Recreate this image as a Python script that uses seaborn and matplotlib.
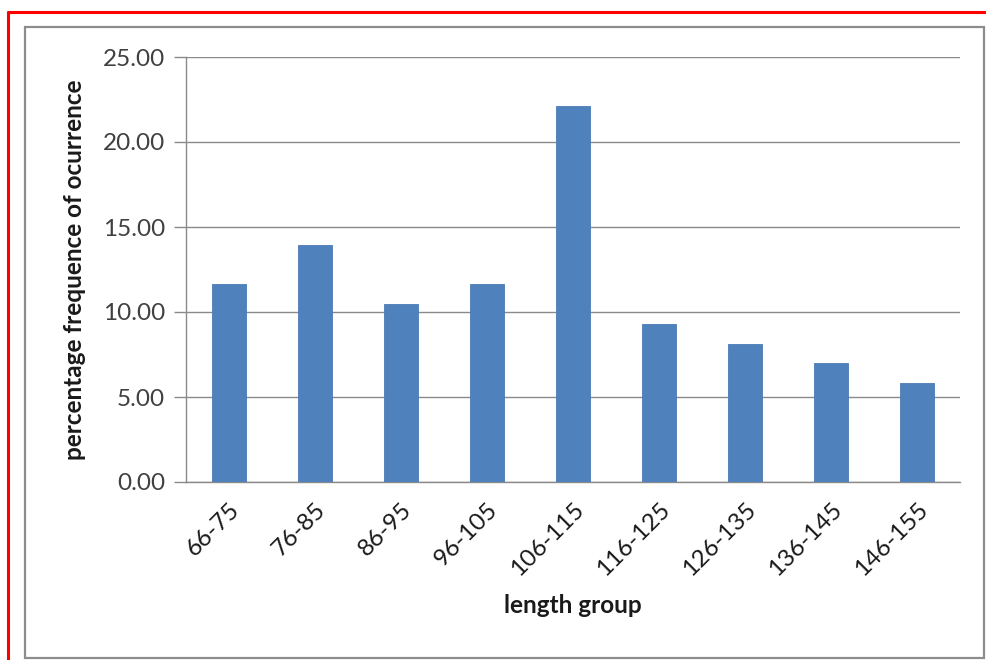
import matplotlib
matplotlib.use("Agg")
import matplotlib.pyplot as plt
import seaborn as sns
import pandas as pd
from matplotlib.lines import Line2D
from matplotlib.patches import Rectangle

# Length classes and their share of the catch (%)
length_groups = ["66-75", "76-85", "86-95", "96-105", "106-115",
                 "116-125", "126-135", "136-145", "146-155"]
percent_freq = [11.63, 13.95, 10.47, 11.63, 22.09, 9.30, 8.14, 6.98, 5.81]
y_ticks = [0, 5, 10, 15, 20, 25]

df = pd.DataFrame({"group": length_groups, "pct": percent_freq})

sns.set_theme(style="white")
plt.rcParams["font.family"] = ["Lato", "DejaVu Sans"]

W, H = 987, 660
fig = plt.figure(figsize=(W / 100, H / 100), dpi=100)
fig.patch.set_facecolor("white")

# outer frames: red outline (top/left) and grey chart border
fig.add_artist(Line2D([8 / W, 1.0], [1 - 12 / H] * 2, color="#ff0000", lw=2.2,
                      transform=fig.transFigure))
fig.add_artist(Line2D([8 / W] * 2, [0, 1 - 12 / H], color="#ff0000", lw=2.2,
                      transform=fig.transFigure))
fig.add_artist(Rectangle((25 / W, 1 - 658 / H), (984 - 25) / W, (658 - 27) / H,
                         fill=False, edgecolor="#8c8c8c", lw=1.6,
                         transform=fig.transFigure))

left, right, top, bottom = 186, 960, 57, 482
ax = fig.add_axes([left / W, 1 - bottom / H, (right - left) / W, (bottom - top) / H])

sns.barplot(data=df, x="group", y="pct", color="#4f81bd", width=0.4,
            saturation=1, edgecolor="#4a7ab5", linewidth=0.6, ax=ax, zorder=3)

ax.set_ylim(0, 25)
ax.set_xlim(-0.5, len(length_groups) - 0.5)
ax.set_yticks(y_ticks)
ax.set_yticklabels([f"{v:.2f}" for v in y_ticks], fontsize=17.5, color="#404040")
ax.yaxis.grid(True, color="#8a8a8a", lw=1.0, zorder=0)
ax.xaxis.grid(False)

for s in ["top", "right"]:
    ax.spines[s].set_visible(False)
ax.spines["left"].set_color("#8a8a8a")
ax.spines["bottom"].set_color("#8a8a8a")
ax.spines["left"].set_linewidth(1.0)
ax.spines["bottom"].set_linewidth(1.0)

ax.tick_params(axis="y", which="major", left=True, length=9, width=1.0,
               color="#8a8a8a", pad=6)
ax.tick_params(axis="x", bottom=False, pad=6)
plt.setp(ax.get_xticklabels(), rotation=45, ha="right", rotation_mode="anchor",
         fontsize=17.5, color="#1a1a1a")

ax.set_xlabel("length group", fontsize=17.5, fontweight="bold", color="#1a1a1a",
              labelpad=10)
ax.set_ylabel("percentage frequence of ocurrence", fontsize=17.5, fontweight="bold",
              color="#1a1a1a", labelpad=12)

fig.savefig("out.png", dpi=100, facecolor="white")
